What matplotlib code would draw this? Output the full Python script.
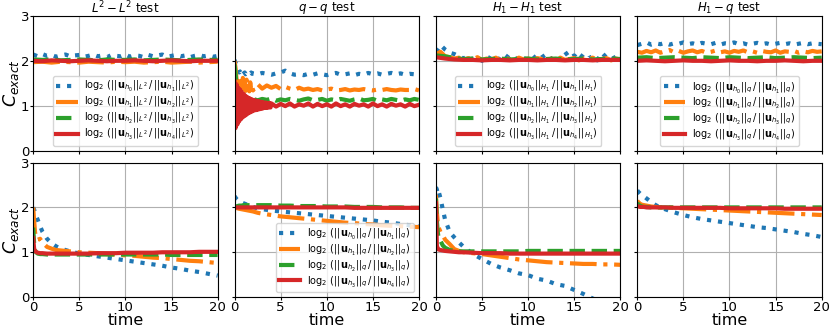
import numpy as np
import matplotlib
matplotlib.use("Agg")
import matplotlib.pyplot as plt

# ---- DATA ----
titles = [r"$L^2-L^2$ test", r"$q-q$ test", r"$H_1-H_1$ test", r"$H_1-q$ test"]
norms = [r"L^2", "q", "H_1", "q"]
norms_bottom = ["q", "q", "q", "q"]

# top row, uniform sampling (step 0.5 or 1.0 depending on length)
l2_blue = [2.14, 2.10, 2.15, 2.11, 2.13, 2.09, 2.12, 2.14, 2.10, 2.12, 2.13, 2.09, 2.11, 2.14,
           2.10, 2.12, 2.08, 2.13, 2.11, 2.10, 2.14, 2.09, 2.12, 2.11, 2.08, 2.13, 2.10, 2.12,
           2.14, 2.09, 2.11, 2.13, 2.10, 2.12, 2.08, 2.11, 2.13, 2.10, 2.12, 2.09, 2.11]
l2_orange = [1.97, 1.98, 1.96, 1.98, 1.97, 1.96, 1.98, 1.97, 1.96, 1.98, 1.97, 1.98, 1.96,
             1.97, 1.98, 1.96, 1.97, 1.98, 1.96, 1.97, 1.98]
l2_green = [2.03, 2.02, 2.03, 2.01, 2.02, 2.03, 2.02, 2.01, 2.03, 2.02, 2.02, 2.03, 2.01,
            2.02, 2.03, 2.02, 2.01, 2.02, 2.03, 2.02, 2.02]
l2_red = [2.00, 1.99, 2.01, 2.00, 1.99, 2.00, 2.01, 2.00, 1.99, 2.00, 2.00, 2.01, 2.00,
          1.99, 2.00, 2.01, 2.00, 1.99, 2.00, 2.00, 2.00]

# q-q top row: dense sampling in the first two time units
t_qq = [0.0, 0.1, 0.2, 0.3, 0.4, 0.5, 0.6, 0.7, 0.8, 0.9, 1.0, 1.1, 1.2, 1.3, 1.4, 1.5,
        1.6, 1.7, 1.8, 1.9, 2.0, 2.5, 3.0, 3.5, 4.0, 4.5, 5.0, 5.5, 6.0, 6.5, 7.0, 7.5,
        8.0, 8.5, 9.0, 9.5, 10.0, 10.5, 11.0, 11.5, 12.0, 12.5, 13.0, 13.5, 14.0, 14.5,
        15.0, 15.5, 16.0, 16.5, 17.0, 17.5, 18.0, 18.5, 19.0, 19.5, 20.0]
qq_blue = [2.02, 1.96, 1.91, 1.86, 1.80, 1.74, 1.76, 1.71, 1.74, 1.69, 1.72, 1.74, 1.70,
           1.72, 1.71, 1.73, 1.70, 1.72, 1.74, 1.71, 1.72,
           1.70, 1.73, 1.71, 1.69, 1.72, 1.74, 1.78, 1.72, 1.69, 1.70, 1.68, 1.71, 1.69,
           1.72, 1.70, 1.68, 1.71, 1.73, 1.69, 1.70, 1.72, 1.68, 1.71, 1.69, 1.73, 1.70,
           1.72, 1.69, 1.71, 1.73, 1.70, 1.72, 1.69, 1.71, 1.70, 1.68]
qq_orange = [2.00, 1.85, 1.62, 1.40, 1.32, 1.60, 1.35, 1.55, 1.30, 1.62, 1.38, 1.50, 1.33,
             1.58, 1.36, 1.45, 1.32, 1.52, 1.37, 1.44, 1.34,
             1.48, 1.38, 1.45, 1.40, 1.44, 1.37, 1.42, 1.38, 1.35, 1.40, 1.36, 1.38, 1.35,
             1.37, 1.34, 1.36, 1.38, 1.34, 1.35, 1.37, 1.34, 1.36, 1.35, 1.37, 1.35, 1.34,
             1.36, 1.35, 1.37, 1.35, 1.34, 1.36, 1.35, 1.35, 1.37, 1.34]
qq_green = [1.92, 1.72, 1.50, 1.38, 1.28, 1.22, 1.30, 1.18, 1.21, 1.15, 1.13, 1.17, 1.11,
            1.15, 1.13, 1.16, 1.12, 1.14, 1.17, 1.13, 1.15,
            1.12, 1.15, 1.13, 1.16, 1.11, 1.14, 1.12, 1.15, 1.13, 1.11, 1.14, 1.16, 1.12,
            1.13, 1.15, 1.11, 1.14, 1.12, 1.15, 1.13, 1.11, 1.14, 1.16, 1.12, 1.13, 1.15,
            1.11, 1.14, 1.12, 1.15, 1.13, 1.11, 1.14, 1.12, 1.15, 1.13]
# red q-q: own grid, dense over the early oscillation
t_qq_red = [0.0, 0.1, 0.2, 0.3, 0.4, 0.5, 0.6, 0.7, 0.8, 0.9, 1.0, 1.1, 1.2, 1.3, 1.4, 1.5,
            1.6, 1.7, 1.8, 1.9, 2.0, 2.1, 2.2, 2.3, 2.4, 2.5, 2.6, 2.7, 2.8, 2.9, 3.0, 3.1,
            3.2, 3.3, 3.4, 3.5, 3.6, 3.7, 3.8, 3.9, 4.0, 4.5, 5.0, 5.5, 6.0, 6.5, 7.0, 7.5,
            8.0, 8.5, 9.0, 9.5, 10.0, 10.5, 11.0, 11.5, 12.0, 12.5, 13.0, 13.5, 14.0, 14.5,
            15.0, 15.5, 16.0, 16.5, 17.0, 17.5, 18.0, 18.5, 19.0, 19.5, 20.0]
qq_red = [1.55, 0.50, 1.48, 0.58, 1.40, 0.65, 1.36, 0.70, 1.30, 0.74, 1.26, 0.77, 1.22,
          0.80, 1.19, 0.83, 1.17, 0.85, 1.15, 0.87, 1.13, 0.89, 1.12, 0.90, 1.11, 0.91,
          1.10, 0.92, 1.09, 0.93, 1.08, 0.94, 1.07, 0.95, 1.07, 0.95, 1.06, 0.96, 1.06,
          0.96, 1.05,
          0.98, 1.04, 0.99, 1.05, 0.98, 1.03, 1.00, 1.05, 0.98, 1.04, 0.99, 1.03, 0.98,
          1.05, 0.99, 1.03, 0.98, 1.04, 1.00, 1.03, 0.98, 1.05, 0.99, 1.03, 0.98, 1.04,
          1.00, 1.03, 0.98, 1.04, 0.99, 1.02]

h1_blue = [2.20, 2.35, 2.25, 2.18, 2.15, 2.10, 2.05, 2.12, 2.02, 2.08, 2.00, 2.10, 2.04,
           2.09, 2.02, 2.13, 2.05, 2.00, 2.10, 2.06, 2.03, 2.12, 2.01, 2.08, 2.15, 2.04,
           2.10, 2.03, 2.20, 2.06, 2.12, 2.02, 2.15, 2.05, 2.10, 2.01, 2.18, 2.07, 2.03,
           2.09, 2.05]
h1_orange = [2.15, 2.20, 2.10, 2.08, 2.05, 2.07, 2.02, 2.06, 2.03, 2.08, 2.02, 2.05, 2.03,
             2.07, 2.01, 2.06, 2.04, 2.02, 2.07, 2.03, 2.05, 2.02, 2.06, 2.04, 2.01, 2.05,
             2.03, 2.07, 2.02, 2.04, 2.06, 2.01, 2.05, 2.03, 2.07, 2.02, 2.04, 2.06, 2.01,
             2.05, 2.03]
h1_green = [2.12, 2.10, 2.06, 2.04, 2.05, 2.03, 2.04, 2.05, 2.03, 2.04, 2.05, 2.03, 2.04,
            2.05, 2.03, 2.04, 2.05, 2.03, 2.04, 2.05, 2.04]
h1_red = [2.08, 2.05, 2.03, 2.02, 2.02, 2.01, 2.02, 2.02, 2.01, 2.02, 2.02, 2.01, 2.02,
          2.02, 2.01, 2.02, 2.02, 2.01, 2.02, 2.02, 2.02]

h1q_blue = [2.35, 2.38, 2.41, 2.36, 2.39, 2.37, 2.40, 2.36, 2.39, 2.38, 2.41, 2.37, 2.39,
            2.36, 2.40, 2.38, 2.37, 2.40, 2.36, 2.39, 2.38, 2.41, 2.37, 2.39, 2.36, 2.38,
            2.40, 2.37, 2.39, 2.36, 2.38, 2.40, 2.37, 2.39, 2.36, 2.38, 2.40, 2.37, 2.39,
            2.38, 2.37]
h1q_orange = [2.20, 2.18, 2.22, 2.19, 2.23, 2.18, 2.21, 2.24, 2.19, 2.22, 2.18, 2.21, 2.23,
              2.19, 2.22, 2.18, 2.20, 2.23, 2.19, 2.21, 2.18, 2.22, 2.20, 2.23, 2.19, 2.21,
              2.18, 2.22, 2.20, 2.19, 2.23, 2.18, 2.21, 2.20, 2.22, 2.18, 2.21, 2.19, 2.22,
              2.20, 2.21]
h1q_green = [2.07, 2.08, 2.06, 2.07, 2.08, 2.07, 2.06, 2.08, 2.07, 2.06, 2.08, 2.07, 2.06,
             2.07, 2.08, 2.06, 2.07, 2.08, 2.07, 2.06, 2.07]
h1q_red = [2.00, 2.01, 2.00, 1.99, 2.00, 2.01, 2.00, 2.00, 1.99, 2.00, 2.01, 2.00, 2.00,
           1.99, 2.00, 2.00, 2.01, 2.00, 1.99, 2.00, 2.00]

# bottom row
t_bot = [0, 0.1, 0.2, 0.3, 0.5, 0.75, 1, 1.5, 2, 2.5, 3, 4, 5, 6, 7, 8, 9, 10, 11, 12,
         13, 14, 15, 16, 17, 18, 19, 20]
l2b_blue = [2.00, 1.95, 1.88, 1.82, 1.72, 1.58, 1.46, 1.30, 1.20, 1.13, 1.08, 1.02, 0.97,
            0.94, 0.91, 0.88, 0.85, 0.82, 0.79, 0.76, 0.73, 0.70, 0.66, 0.63, 0.59, 0.56,
            0.52, 0.48]
l2b_orange = [2.00, 1.70, 1.45, 1.32, 1.28, 1.30, 1.22, 1.12, 1.08, 1.05, 1.04, 1.02, 1.00,
              0.99, 0.98, 0.96, 0.95, 0.93, 0.92, 0.90, 0.88, 0.87, 0.85, 0.83, 0.81, 0.80,
              0.78, 0.76]
l2b_green = [1.55, 1.20, 1.05, 1.00, 0.97, 0.96, 0.96, 0.95, 0.95, 0.95, 0.95, 0.95, 0.95,
             0.95, 0.95, 0.95, 0.95, 0.95, 0.95, 0.95, 0.95, 0.95, 0.94, 0.94, 0.94, 0.94,
             0.94, 0.94]
l2b_red = [1.32, 1.08, 1.03, 1.01, 0.99, 0.98, 0.98, 0.97, 0.97, 0.97, 0.97, 0.97, 0.97,
           0.97, 0.98, 0.98, 0.98, 0.99, 0.99, 0.99, 0.99, 1.00, 1.00, 1.00, 1.00, 1.01,
           1.01, 1.01]

qqb_blue = [2.25, 2.22, 2.19, 2.17, 2.14, 2.11, 2.09, 2.05, 2.01, 1.98, 1.96, 1.93, 1.91,
            1.89, 1.87, 1.85, 1.83, 1.81, 1.79, 1.77, 1.75, 1.73, 1.71, 1.68, 1.66, 1.63,
            1.60, 1.57]
qqb_orange = [2.00, 2.00, 1.99, 1.98, 1.97, 1.96, 1.95, 1.93, 1.91, 1.88, 1.86, 1.83, 1.80,
              1.78, 1.76, 1.74, 1.72, 1.70, 1.68, 1.66, 1.65, 1.63, 1.62, 1.60, 1.59, 1.58,
              1.57, 1.56]
qqb_green = [2.00, 2.01, 2.02, 2.03, 2.04, 2.04, 2.05, 2.05, 2.05, 2.05, 2.05, 2.05, 2.04,
             2.04, 2.03, 2.03, 2.03, 2.02, 2.02, 2.02, 2.01, 2.01, 2.01, 2.00, 2.00, 2.00,
             1.99, 1.99]
qqb_red = [2.00, 2.00, 2.00, 2.00, 2.00, 2.00, 2.00, 2.00, 2.00, 2.00, 2.00, 2.00, 2.00,
           2.00, 2.00, 2.00, 2.00, 2.00, 2.00, 2.00, 1.99, 1.99, 1.99, 1.99, 1.99, 1.99,
           1.99, 1.99]

h1b_blue = [2.45, 2.40, 2.30, 2.35, 2.20, 1.95, 1.72, 1.45, 1.33, 1.22, 1.12, 0.96, 0.85,
            0.74, 0.66, 0.60, 0.53, 0.49, 0.41, 0.37, 0.29, 0.25, 0.16, 0.07, -0.03, -0.12,
            -0.20, -0.30]
h1b_orange = [2.28, 1.90, 1.65, 1.55, 1.45, 1.38, 1.28, 1.18, 1.07, 1.03, 1.00, 0.98, 0.96,
              0.93, 0.90, 0.87, 0.84, 0.82, 0.80, 0.78, 0.77, 0.76, 0.75, 0.74, 0.74, 0.73,
              0.73, 0.72]
h1b_green = [2.20, 1.70, 1.45, 1.30, 1.25, 1.15, 1.10, 1.05, 1.03, 1.02, 1.02, 1.02, 1.02,
             1.02, 1.02, 1.02, 1.02, 1.03, 1.03, 1.03, 1.03, 1.03, 1.03, 1.03, 1.03, 1.03,
             1.03, 1.03]
h1b_red = [2.10, 1.15, 1.08, 1.06, 1.05, 1.04, 1.03, 1.02, 1.01, 1.00, 1.00, 0.99, 0.98,
           0.98, 0.98, 0.97, 0.97, 0.97, 0.97, 0.97, 0.97, 0.97, 0.97, 0.97, 0.97, 0.97,
           0.97, 0.97]

h1qb_blue = [2.38, 2.35, 2.33, 2.31, 2.28, 2.24, 2.20, 2.12, 2.05, 2.00, 1.96, 1.89, 1.83,
             1.78, 1.74, 1.71, 1.68, 1.65, 1.62, 1.59, 1.56, 1.54, 1.51, 1.48, 1.45, 1.41,
             1.38, 1.34]
h1qb_orange = [2.15, 2.12, 2.10, 2.08, 2.06, 2.05, 2.04, 2.02, 2.01, 2.00, 2.00, 1.99, 1.98,
               1.97, 1.96, 1.95, 1.94, 1.93, 1.92, 1.91, 1.90, 1.89, 1.88, 1.87, 1.86, 1.85,
               1.84, 1.83]
h1qb_green = [2.10, 2.07, 2.05, 2.04, 2.02, 2.01, 2.01, 2.00, 2.00, 2.00, 2.00, 2.00, 2.00,
              2.00, 2.00, 2.00, 2.00, 2.00, 2.00, 2.00, 2.00, 2.00, 2.00, 2.00, 2.00, 2.00,
              2.00, 2.00]
h1qb_red = [2.03, 2.02, 2.02, 2.01, 2.01, 2.01, 2.00, 2.00, 2.00, 2.00, 2.00, 1.99, 1.99,
            1.99, 1.99, 1.99, 1.99, 1.98, 1.98, 1.98, 1.98, 1.98, 1.98, 1.97, 1.97, 1.97,
            1.97, 1.97]

top_series = [[l2_blue, l2_orange, l2_green, l2_red],
              [qq_blue, qq_orange, qq_green, qq_red],
              [h1_blue, h1_orange, h1_green, h1_red],
              [h1q_blue, h1q_orange, h1q_green, h1q_red]]
bottom_series = [[l2b_blue, l2b_orange, l2b_green, l2b_red],
                 [qqb_blue, qqb_orange, qqb_green, qqb_red],
                 [h1b_blue, h1b_orange, h1b_green, h1b_red],
                 [h1qb_blue, h1qb_orange, h1qb_green, h1qb_red]]

# ---- STYLE ----
colors = ["tab:blue", "tab:orange", "tab:green", "tab:red"]
styles = [":", "-.", "--", "-"]


def label(k, nrm):
    return (r"$\log_2\,(||\mathbf{u}_{h_%d}||_{%s}\,/\,||\mathbf{u}_{h_%d}||_{%s})$"
            % (k, nrm, k + 1, nrm))


def times(vals, col, k, top):
    if not top:
        return t_bot
    if col == 1:
        return t_qq_red if k == 3 else t_qq
    return np.linspace(0, 20, len(vals))


fig, axes = plt.subplots(2, 4, figsize=(8.3, 3.32), dpi=100, sharex=True, sharey=True)
fig.subplots_adjust(left=0.040, right=0.990, top=0.952, bottom=0.105,
                    wspace=0.092, hspace=0.089)

leg_kw = dict(fontsize=7, handlelength=2.2, labelspacing=0.1, borderpad=0.35,
              handletextpad=0.7)

for c in range(4):
    ax = axes[0, c]
    for k in range(4):
        vals = top_series[c][k]
        ax.plot(times(vals, c, k, True), vals, color=colors[k], linestyle=styles[k], lw=3,
                label=label(k, norms[c]))
    ax.set_title(titles[c], fontsize=8.5, pad=2)
    if c != 1:
        ax.legend(loc="lower center", **leg_kw)

    ax = axes[1, c]
    for k in range(4):
        vals = bottom_series[c][k]
        ax.plot(times(vals, c, k, False), vals, color=colors[k], linestyle=styles[k], lw=3,
                label=label(k, norms_bottom[c]))
    if c == 1:
        ax.legend(loc="lower right", **leg_kw)
    ax.set_xlabel("time", fontsize=11.5, labelpad=-1)

for ax in axes.flat:
    ax.grid(True)
    ax.set_xlim(0, 20)
    ax.set_ylim(0, 3)
    ax.set_xticks([0, 5, 10, 15, 20])
    ax.set_yticks([0, 1, 2, 3])
    ax.tick_params(labelsize=9.5, length=2, pad=1)

axes[0, 0].set_ylabel(r"$C_{exact}$", fontsize=12.5, labelpad=0)
axes[1, 0].set_ylabel(r"$C_{exact}$", fontsize=12.5, labelpad=0)

plt.savefig("out.png", dpi=100)
